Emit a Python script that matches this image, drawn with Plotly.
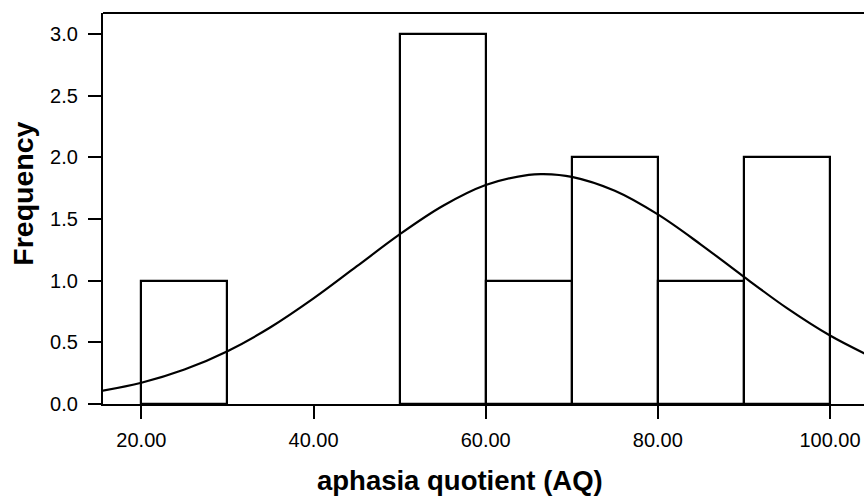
import plotly.graph_objects as go

# Histogram bins (left edge, right edge) and counts
bin_left = [20, 50, 60, 70, 80, 90]
bin_right = [30, 60, 70, 80, 90, 100]
counts = [1, 3, 1, 2, 1, 2]

# Fitted normal curve
curve_x = [15, 20, 25, 30, 35, 40, 45, 50, 55, 60, 65, 66.7, 70, 75, 80, 85, 90, 95, 100, 105]
curve_y = [0.101, 0.172, 0.279, 0.428, 0.622, 0.856, 1.115, 1.375, 1.605, 1.775, 1.858, 1.864,
           1.842, 1.729, 1.537, 1.293, 1.031, 0.777, 0.555, 0.376]

x_ticks = [20, 40, 60, 80, 100]
x_tick_labels = ["20.00", "40.00", "60.00", "80.00", "100.00"]
y_ticks = [0.0, 0.5, 1.0, 1.5, 2.0, 2.5, 3.0]
y_tick_labels = ["0.0", "0.5", "1.0", "1.5", "2.0", "2.5", "3.0"]

centers = [(a + b) / 2 for a, b in zip(bin_left, bin_right)]
widths = [b - a for a, b in zip(bin_left, bin_right)]

W, H = 864, 503
L, R, T, B = 103.3, 0.0, 12.7, 98.7
pw = W - L - R
ph = H - T - B

FONT = "Liberation Sans, Arial, sans-serif"

fig = go.Figure()
fig.add_trace(go.Bar(
    x=centers, y=counts, width=widths,
    marker=dict(color="white", line=dict(color="black", width=2.2)),
    hoverinfo="skip", showlegend=False,
))
fig.add_trace(go.Scatter(
    x=curve_x, y=curve_y, mode="lines",
    line=dict(color="black", width=2.2, shape="spline", smoothing=1),
    hoverinfo="skip", showlegend=False,
))

fig.update_layout(
    width=W, height=H,
    margin=dict(l=L, r=R, t=T, b=B, pad=0),
    paper_bgcolor="white", plot_bgcolor="white",
    font=dict(family=FONT, color="black"),
    bargap=0,
    xaxis=dict(
        range=[15.54, 103.95], tickmode="array", tickvals=x_ticks, ticktext=x_tick_labels,
        ticks="outside", ticklen=13, tickwidth=2, tickcolor="black", ticklabelstandoff=4,
        showline=True, linecolor="black", linewidth=2.2, showgrid=False, zeroline=False,
        tickfont=dict(family=FONT, size=20, color="black"),
    ),
    yaxis=dict(
        range=[0, 3.17], tickmode="array", tickvals=y_ticks, ticktext=y_tick_labels,
        ticks="outside", ticklen=13, tickwidth=2, tickcolor="black", ticklabelstandoff=6,
        showline=True, linecolor="black", linewidth=2.2, showgrid=False, zeroline=False,
        tickfont=dict(family=FONT, size=20, color="black"),
    ),
    shapes=[dict(type="line", xref="paper", yref="paper", x0=0, x1=1, y0=1, y1=1,
                 line=dict(color="black", width=2))],
    annotations=[
        dict(text="<b>aphasia quotient (AQ)</b>", xref="paper", yref="paper",
             x=(460 - L) / pw, y=(H - B - 481) / ph, xanchor="center", yanchor="middle",
             showarrow=False, font=dict(family=FONT, size=27.5, color="black")),
        dict(text="<b>Frequency</b>", xref="paper", yref="paper", textangle=-90,
             x=(23 - L) / pw, y=(H - B - 194) / ph, xanchor="center", yanchor="middle",
             showarrow=False, font=dict(family=FONT, size=28.5, color="black")),
    ],
)

fig.write_html("out.html", config={"displayModeBar": False},
               post_script="document.body.style.margin='0px';")
